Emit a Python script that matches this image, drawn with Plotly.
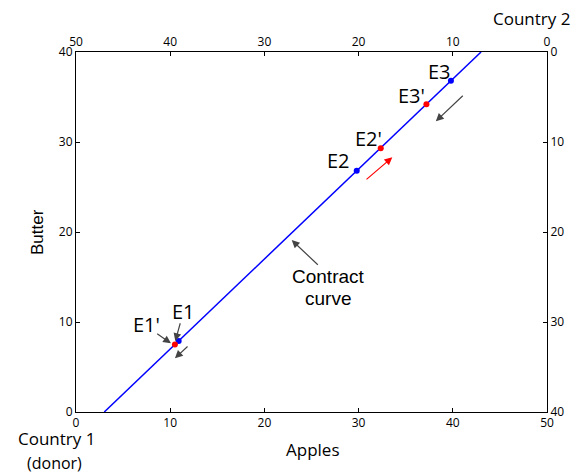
import plotly.graph_objects as go

# ---- data ----
curve_apples = [3, 43]
curve_butter = [0, 40]

blue_labels = ["E1", "E2", "E3"]
blue_apples = [10.9, 29.8, 39.8]
blue_butter = [7.9, 26.8, 36.8]

red_labels = ["E1'", "E2'", "E3'"]
red_apples = [10.5, 32.35, 37.2]
red_butter = [7.5, 29.3, 34.2]

# label text positions (data coords)
label_text = ["E1", "E1'", "E2", "E2'", "E3", "E3'"]
label_x = [11.46, 7.5, 27.85, 31.03, 38.64, 35.64]
label_y = [11.14, 9.67, 28.0, 30.4, 37.8, 35.2]

# arrows: (head_x, head_y, tail_x, tail_y, color)
arrows = [
    (10.54, 7.89, 11.11, 10.03, "#444444"),   # E1 pointer
    (10.08, 7.63, 8.46, 8.81, "#444444"),     # E1' pointer
    (22.9, 19.1, 25.83, 16.2, "#444444"),     # contract curve pointer
    (10.5, 5.97, 12.0, 7.44, "#444444"),      # movement near E1
    (33.58, 28.3, 30.68, 25.7, "#ff0000"),    # red movement near E2
    (38.2, 32.3, 41.22, 35.3, "#444444"),     # movement near E3
]

bottom_ticks = [0, 10, 20, 30, 40, 50]
left_ticks = [0, 10, 20, 30, 40]

tick_font = dict(family="Open Sans", size=12, color="black")

fig = go.Figure()
fig.add_trace(go.Scatter(x=curve_apples, y=curve_butter, mode="lines",
                         line=dict(color="#0000ff", width=1.5),
                         hoverinfo="skip", showlegend=False))
fig.add_trace(go.Scatter(x=blue_apples, y=blue_butter, mode="markers",
                         marker=dict(color="#0000ff", size=6),
                         text=blue_labels, showlegend=False))
fig.add_trace(go.Scatter(x=red_apples, y=red_butter, mode="markers",
                         marker=dict(color="#ff0000", size=6),
                         text=red_labels, showlegend=False))
# dummy trace for the mirrored (Country 2) axes
fig.add_trace(go.Scatter(x=[0], y=[0], xaxis="x2", yaxis="y2", mode="markers",
                         marker=dict(opacity=0), hoverinfo="skip", showlegend=False))

annotations = []
for t, x, y in zip(label_text, label_x, label_y):
    annotations.append(dict(x=x, y=y, xref="x", yref="y", text=t, showarrow=False,
                            font=dict(family="Open Sans", size=20, color="black"),
                            xanchor="center", yanchor="middle"))
for hx, hy, tx, ty, c in arrows:
    annotations.append(dict(x=hx, y=hy, xref="x", yref="y", ax=tx, ay=ty,
                            axref="x", ayref="y", text="", showarrow=True,
                            arrowhead=2, arrowsize=1.3, arrowwidth=1.2,
                            arrowcolor=c, standoff=0, startstandoff=0))

annotations += [
    dict(x=26.83, y=15.03, xref="x", yref="y", text="Contract", showarrow=False,
         font=dict(family="Liberation Sans", size=19, color="black")),
    dict(x=26.78, y=12.56, xref="x", yref="y", text="curve", showarrow=False,
         font=dict(family="Liberation Sans", size=19, color="black")),
    dict(x=0.503, y=-0.103, xref="paper", yref="paper", text="Apples", showarrow=False,
         font=dict(family="Open Sans", size=17, color="black"),
         xanchor="center", yanchor="middle"),
    dict(x=-0.0828, y=0.5, xref="paper", yref="paper", text="Butter", showarrow=False,
         textangle=-90, font=dict(family="Liberation Sans", size=17, color="black"),
         xanchor="center", yanchor="middle"),
    dict(x=0.968, y=1.094, xref="paper", yref="paper", text="Country 2", showarrow=False,
         font=dict(family="Open Sans", size=17, color="black"),
         xanchor="center", yanchor="middle"),
    dict(x=-0.041, y=-0.074, xref="paper", yref="paper", text="Country 1", showarrow=False,
         font=dict(family="Open Sans", size=17, color="black"),
         xanchor="center", yanchor="middle"),
    dict(x=-0.0446, y=-0.141, xref="paper", yref="paper", text="(donor)", showarrow=False,
         font=dict(family="Open Sans", size=16, color="black"),
         xanchor="center", yanchor="middle"),
]

axis_common = dict(showgrid=False, zeroline=False, showline=True, linecolor="black",
                   linewidth=1, ticks="inside", ticklen=4, tickcolor="black",
                   tickfont=tick_font, fixedrange=True)

fig.update_layout(
    width=576, height=474,
    margin=dict(l=76, r=29, t=52, b=62),
    paper_bgcolor="white", plot_bgcolor="white",
    xaxis=dict(range=[0, 50], tickvals=bottom_ticks, **axis_common),
    yaxis=dict(range=[0, 40], tickvals=left_ticks, **axis_common),
    xaxis2=dict(range=[50, 0], tickvals=bottom_ticks, overlaying="x", side="top",
                anchor="y", **axis_common),
    yaxis2=dict(range=[40, 0], tickvals=left_ticks, overlaying="y", side="right",
                anchor="x", **axis_common),
    annotations=annotations,
    showlegend=False,
)

fig.write_html("out.html", config={"displayModeBar": False},
               post_script="document.body.style.margin='0';document.body.style.padding='0';document.body.style.overflow='hidden';")
